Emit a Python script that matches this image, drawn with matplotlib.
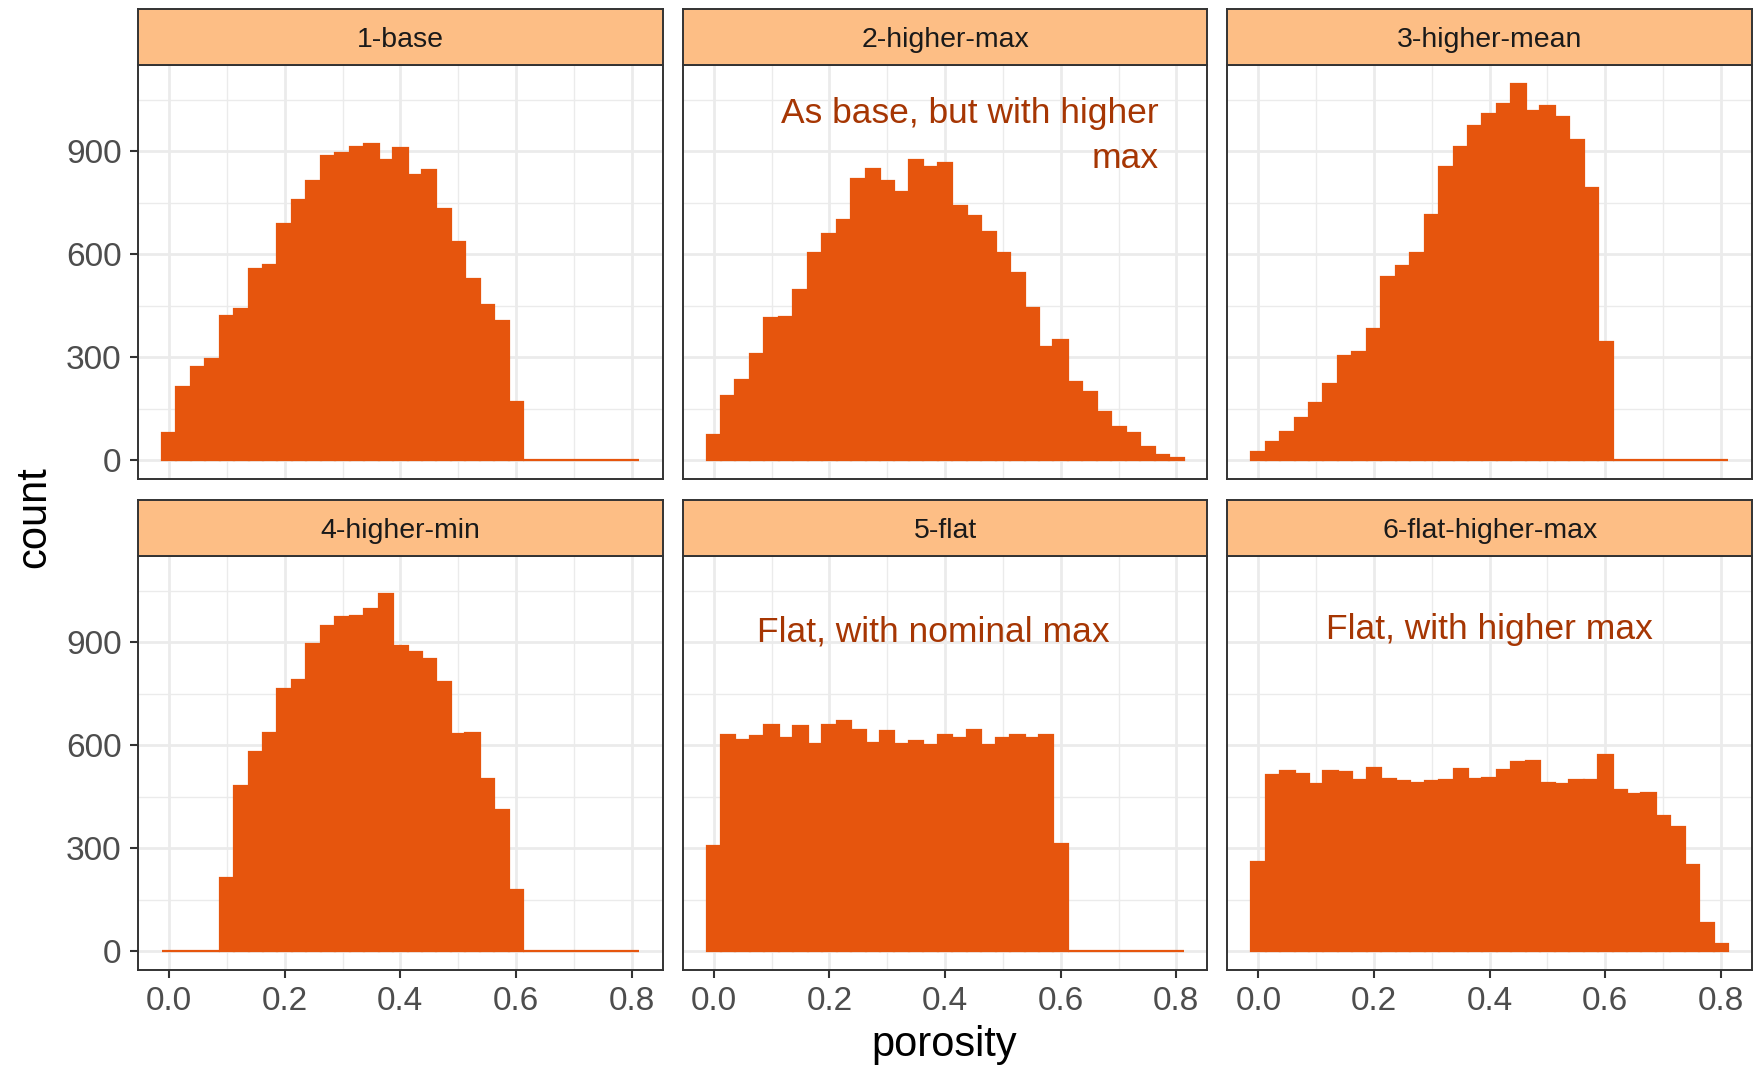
import numpy as np
import matplotlib
matplotlib.use("Agg")
import matplotlib.pyplot as plt
from matplotlib.ticker import MultipleLocator

plt.rcParams['font.family'] = ['Liberation Sans', 'DejaVu Sans']

# histogram counts, 33 bins of width 0.025 centred on 0.000 ... 0.800
bin_width = 0.025
n_bins = 33

base = [79, 214, 272, 294, 419, 440, 556, 568, 688, 757, 813, 886, 896, 912, 923, 876,
        910, 832, 847, 732, 635, 529, 453, 406, 170, 0, 0, 0, 0, 0, 0, 0, 0]
higher_max = [74, 186, 233, 309, 414, 416, 496, 605, 660, 699, 820, 849, 815, 781, 876, 856,
              867, 740, 712, 664, 603, 547, 445, 330, 350, 229, 199, 141, 96, 79, 37, 14, 6]
higher_mean = [23, 54, 81, 122, 168, 221, 305, 316, 383, 533, 566, 603, 716, 854, 913, 974,
               1010, 1039, 1097, 1018, 1031, 1000, 933, 794, 345, 0, 0, 0, 0, 0, 0, 0, 0]
higher_min = [0, 0, 0, 0, 214, 482, 582, 635, 765, 791, 895, 948, 974, 976, 997, 1041,
              890, 873, 852, 784, 633, 636, 503, 411, 179, 0, 0, 0, 0, 0, 0, 0, 0]
flat = [306, 629, 615, 627, 660, 622, 656, 605, 660, 670, 646, 607, 641, 605, 614, 600,
        629, 622, 646, 600, 622, 629, 622, 629, 311, 0, 0, 0, 0, 0, 0, 0, 0]
flat_higher_max = [260, 513, 525, 516, 487, 525, 523, 498, 535, 503, 496, 490, 496, 498, 530, 503,
                   506, 527, 550, 553, 491, 487, 500, 500, 572, 471, 458, 462, 393, 363, 252, 83, 21]

panel_names = ['1-base', '2-higher-max', '3-higher-mean',
               '4-higher-min', '5-flat', '6-flat-higher-max']
panel_counts = [base, higher_max, higher_mean, higher_min, flat, flat_higher_max]

# annotations: panel index -> (x, y, text, ha)
notes = {
    1: (0.77, 945, 'As base, but with higher\nmax', 'right'),
    4: (0.38, 930, 'Flat, with nominal max', 'center'),
    5: (0.40, 938, 'Flat, with higher max', 'center'),
}

fill = '#E6550D'
strip_fill = '#FDBE85'
note_col = '#A63603'
border = '#333333'
grid_col = '#EBEBEB'

W, H = 1756, 1074
fig = plt.figure(figsize=(W / 100, H / 100), dpi=100)

col_left = [138, 682.7, 1227.3]
panel_w = 524.7
row_top = [65, 556]      # panel tops (px from top)
panel_h = 414
strip_h = 56

centres = np.arange(n_bins) * bin_width
ymax = max(max(c) for c in panel_counts)
xlo, xhi = -bin_width / 2, centres[-1] + bin_width / 2
xpad = 0.05 * (xhi - xlo)

for i, (name, counts) in enumerate(zip(panel_names, panel_counts)):
    r, c = divmod(i, 3)
    x0 = col_left[c]
    y0 = row_top[r]
    ax = fig.add_axes([x0 / W, 1 - (y0 + panel_h) / H, panel_w / W, panel_h / H])
    sax = fig.add_axes([x0 / W, 1 - y0 / H, panel_w / W, strip_h / H])

    ax.bar(centres, counts, width=bin_width, color=fill, edgecolor=fill, linewidth=1.6, zorder=3)

    ax.set_xlim(xlo - xpad, xhi + xpad)
    ax.set_ylim(-0.05 * ymax, 1.05 * ymax)
    ax.xaxis.set_major_locator(MultipleLocator(0.2))
    ax.xaxis.set_minor_locator(MultipleLocator(0.1))
    ax.yaxis.set_major_locator(MultipleLocator(300))
    ax.yaxis.set_minor_locator(MultipleLocator(150))
    ax.grid(which='major', color=grid_col, linewidth=2.0, zorder=0)
    ax.grid(which='minor', color=grid_col, linewidth=1.0, zorder=0)
    ax.set_axisbelow(True)
    for sp in ax.spines.values():
        sp.set_color(border)
        sp.set_linewidth(1.4)
        sp.set_zorder(5)

    ax.tick_params(which='minor', length=0)
    ax.tick_params(which='major', length=5.8, width=1.5, color=border,
                   labelcolor='#4D4D4D', labelsize=24, pad=6)
    if c == 0:
        ax.set_yticks([0, 300, 600, 900])
        ax.set_yticklabels(['0', '300', '600', '900'])
    else:
        ax.tick_params(axis='y', which='major', left=False, labelleft=False)
    if r == 1:
        ax.set_xticks([0.0, 0.2, 0.4, 0.6, 0.8])
        ax.set_xticklabels(['0.0', '0.2', '0.4', '0.6', '0.8'])
    else:
        ax.tick_params(axis='x', which='major', bottom=False, labelbottom=False)

    if i in notes:
        nx, ny, txt, ha = notes[i]
        ax.text(nx, ny, txt, ha=ha, va='center', color=note_col, fontsize=25.5,
                linespacing=1.45, zorder=6)

    # strip
    sax.set_facecolor(strip_fill)
    sax.set_xticks([])
    sax.set_yticks([])
    for sp in sax.spines.values():
        sp.set_color(border)
        sp.set_linewidth(1.4)
    sax.text(0.5, 0.44, name, ha='center', va='center', fontsize=20.5,
             color='#1A1A1A', transform=sax.transAxes)

fig.text(34 / W, 1 - 517 / H, 'count', rotation=90, ha='center', va='center',
         fontsize=30, color='black')
fig.text(944 / W, 1 - 1045 / H, 'porosity', ha='center', va='center',
         fontsize=30, color='black')

fig.savefig('out.png', dpi=100, facecolor='white')
